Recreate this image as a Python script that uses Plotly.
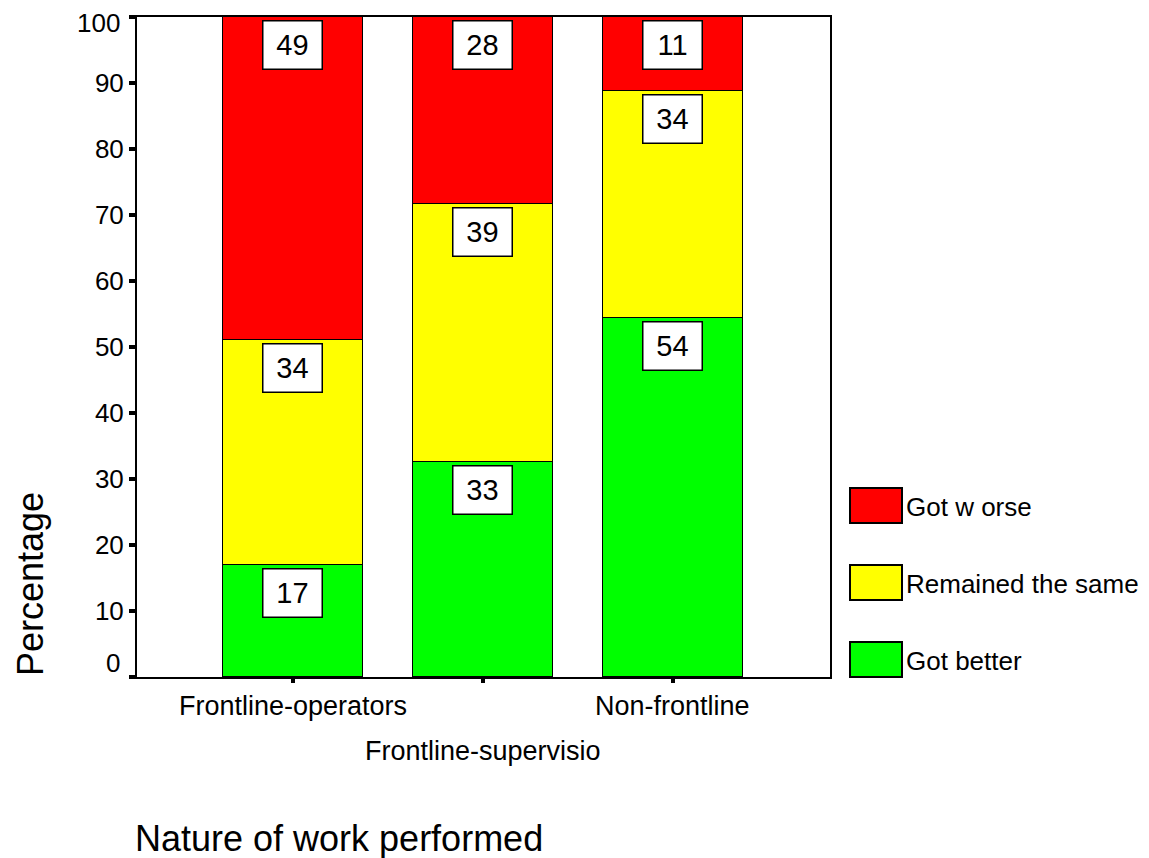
import plotly.graph_objects as go

categories = ["Frontline-operators", "Frontline-supervisio", "Non-frontline"]
series_names = ["Got better", "Remained the same", "Got w orse"]
got_better = [17.0, 32.6, 54.4]
remained_same = [34.0, 39.1, 34.4]
got_worse = [49.0, 28.3, 11.2]
series_values = [got_better, remained_same, got_worse]
series_colors = ["#00ff00", "#ffff00", "#ff0000"]
y_ticks = [0, 10, 20, 30, 40, 50, 60, 70, 80, 90, 100]

FONT = "Liberation Sans, Arial, sans-serif"
W, H = 1149, 858
OFF = 8  # page body margin
L, R, T, B = 137, 830, 17, 677  # plot area in page pixels


def px(x):
    return (x - L) / (R - L)


def py(y):
    return (B - y) / (B - T)


xs = list(range(len(categories)))
fig = go.Figure()
for name, vals, col in zip(series_names, series_values, series_colors):
    fig.add_trace(go.Bar(
        x=xs, y=vals, name=name, width=0.737,
        marker=dict(color=col, line=dict(color="black", width=1.5)),
        showlegend=False,
    ))

annotations = []
# value boxes at top of each segment
for i in range(len(categories)):
    cum = 0
    for vals in series_values:
        cum += vals[i]
        annotations.append(dict(
            x=xs[i], y=cum, xref="x", yref="y", text=str(round(vals[i])),
            showarrow=False, yanchor="top", yshift=-3,
            font=dict(family=FONT, size=29, color="black"),
            bgcolor="white", bordercolor="black", borderwidth=1.5, borderpad=0,
            width=58, height=47,
        ))

# category labels (staggered)
for i, c in enumerate(categories):
    annotations.append(dict(
        x=xs[i], y=0, xref="x", yref="y", text=c, showarrow=False,
        yanchor="middle", yshift=-29 if i % 2 == 0 else -74,
        font=dict(family=FONT, size=27, color="black"),
    ))

# end tick labels "0" and "100" (drawn slightly inward as in the reference)
for val, shift in ((y_ticks[0], 14), (y_ticks[-1], -6)):
    annotations.append(dict(
        x=0, y=val, xref="paper", yref="y", text=str(val), showarrow=False,
        xanchor="right", yanchor="middle", xshift=-15, yshift=shift,
        font=dict(family=FONT, size=26, color="black"),
    ))

# axis titles
annotations.append(dict(
    x=px(133), y=py(838), xref="paper", yref="paper",
    text="Nature of work performed", showarrow=False, xanchor="left", yanchor="middle",
    font=dict(family=FONT, size=36, color="black"),
))
annotations.append(dict(
    x=px(30), y=py(584), xref="paper", yref="paper",
    text="Percentage", showarrow=False, textangle=-90, xanchor="center", yanchor="middle",
    font=dict(family=FONT, size=36, color="black"),
))

# legend drawn as boxes + labels
shapes = []
legend_tops = [488, 565, 642]
for k, idx in enumerate([2, 1, 0]):
    top = legend_tops[k]
    shapes.append(dict(
        type="rect", xref="paper", yref="paper",
        x0=px(850), x1=px(902), y0=py(top), y1=py(top + 35),
        fillcolor=series_colors[idx], line=dict(color="black", width=2),
    ))
    annotations.append(dict(
        x=px(904), y=py(top + 19), xref="paper", yref="paper",
        text=series_names[idx], showarrow=False, xanchor="left", yanchor="middle",
        font=dict(family=FONT, size=26, color="black"),
    ))

fig.update_layout(
    width=W, height=H, barmode="stack", bargap=0,
    paper_bgcolor="white", plot_bgcolor="white",
    margin=dict(l=L - OFF, r=W - R + OFF, t=T - OFF, b=H - B + OFF, pad=0,
                autoexpand=False),
    showlegend=False, annotations=annotations, shapes=shapes,
    xaxis=dict(
        range=[-0.82, 2.827], tickvals=xs, ticktext=["", "", ""],
        showline=True, linecolor="black", linewidth=2, mirror=True,
        ticks="outside", ticklen=4, tickwidth=4, tickcolor="black",
        showgrid=False, zeroline=False, automargin=False,
    ),
    yaxis=dict(
        range=[0, 100], tickvals=y_ticks,
        ticktext=[""] + [str(v) for v in y_ticks[1:-1]] + [""],
        showline=True, linecolor="black", linewidth=2, mirror=True,
        ticks="outside", ticklen=6, tickwidth=4, tickcolor="black",
        tickfont=dict(family=FONT, size=26, color="black"),
        showgrid=False, zeroline=False, automargin=False,
    ),
)
fig.write_html("out.html")
